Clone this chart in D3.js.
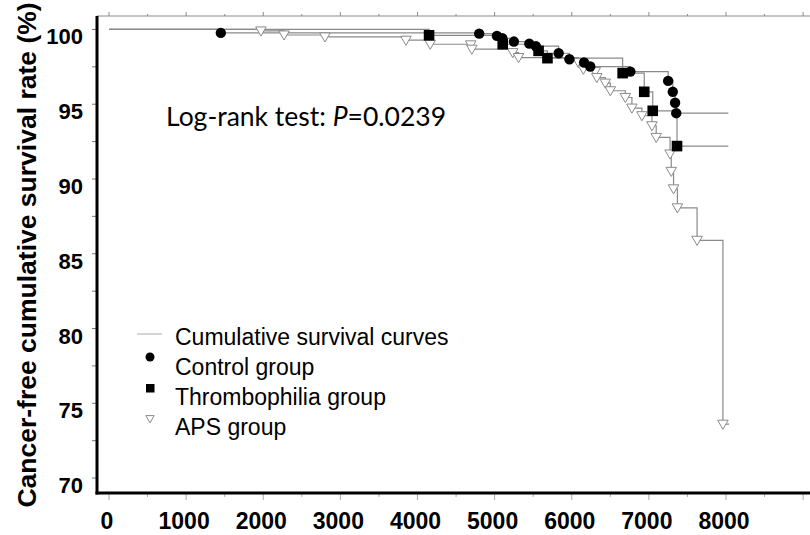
<!DOCTYPE html>
<html>
<head>
<meta charset="utf-8">
<script src="https://cdn.jsdelivr.net/npm/d3@7"></script>
<style>
  body { margin: 0; background: #fff; }
  svg { display: block; }
</style>
</head>
<body>
<svg id="chart" width="810" height="535"></svg>
<script>
// survival data: [days, survival %]
const controlPts = [[0, 100], [1450, 99.77], [4800, 99.72], [5030, 99.57], [5100, 99.41], [5250, 99.19],
  [5450, 99.05], [5535, 98.88], [5830, 98.41], [5970, 98.01], [6160, 97.79], [6240, 97.52],
  [6760, 97.18], [7250, 96.56], [7310, 95.83], [7340, 95.1], [7355, 94.4]];
const thromboPts = [[0, 100], [4150, 99.61], [5105, 99.01], [5570, 98.57], [5685, 98.08],
  [6660, 97.08], [6940, 95.83], [7050, 94.56], [7365, 92.2]];
const apsPts = [[0, 100], [1970, 99.9], [2270, 99.63], [2800, 99.5], [3850, 99.28], [4165, 99.01],
  [4690, 98.97], [4705, 98.68], [5235, 98.45], [5310, 98.12], [6085, 97.79], [6150, 97.34],
  [6305, 97.18], [6325, 96.78], [6435, 96.41], [6500, 95.9], [6695, 95.45], [6780, 94.74],
  [6910, 94.23], [7040, 93.56], [7095, 92.78], [7275, 91.67], [7290, 90.51], [7320, 89.34],
  [7370, 88.07], [7625, 85.9], [7960, 73.6]];
const lineEnds = { control: 8030, thrombo: 8030, aps: 8040 };

const xTicks = [0, 1000, 2000, 3000, 4000, 5000, 6000, 7000, 8000];
const yTicks = [70, 75, 80, 85, 90, 95, 100];
const legendItems = ["Cumulative survival curves", "Control group", "Thrombophilia group", "APS group"];

const svg = d3.select("#chart");
const pLeft = 97, pTop = 16, pRight = 815, pBottom = 493;

const x = d3.scaleLinear().domain([-155.6, 9154]).range([pLeft, pRight]);
const y = d3.scaleLinear().domain([69, 100.9]).range([pBottom, pTop]);
const gray = "#8a8a8a";

// top frame (thin grey) with small upward ticks
svg.append("line").attr("x1", pLeft).attr("x2", pRight).attr("y1", pTop).attr("y2", pTop)
  .attr("stroke", gray).attr("stroke-width", 1);
svg.selectAll(".ttick").data(d3.range(0, 9001, 500)).enter().append("line")
  .attr("x1", d => x(d)).attr("x2", d => x(d))
  .attr("y1", pTop).attr("y2", d => d % 1000 === 0 ? pTop - 4 : pTop - 2)
  .attr("stroke", gray);

// bottom ticks
svg.selectAll(".btick").data(d3.range(0, 9001, 500)).enter().append("line")
  .attr("x1", d => x(d)).attr("x2", d => x(d))
  .attr("y1", pBottom + 1).attr("y2", d => d % 1000 === 0 ? pBottom + 7 : pBottom + 4)
  .attr("stroke", "#aaa");

// y ticks
svg.selectAll(".ytick").data(d3.range(70, 100.1, 2.5)).enter().append("line")
  .attr("x1", pLeft - 5).attr("x2", pLeft)
  .attr("y1", d => y(d)).attr("y2", d => y(d))
  .attr("stroke", "#777");

// main axes, thick black
svg.append("line").attr("x1", pLeft).attr("x2", pLeft).attr("y1", pTop).attr("y2", pBottom + 1.5)
  .attr("stroke", "#000").attr("stroke-width", 3);
svg.append("line").attr("x1", pLeft - 1.5).attr("x2", pRight).attr("y1", pBottom).attr("y2", pBottom)
  .attr("stroke", "#000").attr("stroke-width", 3);

// tick labels
svg.selectAll(".xlab").data(xTicks).enter().append("text")
  .attr("x", d => x(d) - 2).attr("y", 529)
  .attr("text-anchor", "middle")
  .style("font-family", "Liberation Sans, Arial, sans-serif")
  .style("font-weight", "bold").style("font-size", "23px")
  .text(d => d);

svg.selectAll(".ylab").data(yTicks).enter().append("text")
  .attr("x", 83).attr("y", d => y(d) + 15)
  .attr("text-anchor", "end")
  .style("font-family", "Liberation Sans, Arial, sans-serif")
  .style("font-weight", "bold").style("font-size", "22px")
  .text(d => d);

// y axis title
svg.append("text")
  .attr("transform", "translate(36,255) rotate(-90)")
  .attr("text-anchor", "middle")
  .style("font-family", "Liberation Sans, Arial, sans-serif")
  .style("font-weight", "bold").style("font-size", "26.5px")
  .text("Cancer-free cumulative survival rate (%)");

// step curves
const stepLine = d3.line().x(d => x(d[0])).y(d => y(d[1])).curve(d3.curveStepAfter);
function drawCurve(pts, endT) {
  const full = pts.concat([[endT, pts[pts.length - 1][1]]]);
  svg.append("path").attr("d", stepLine(full))
    .attr("fill", "none").attr("stroke", gray).attr("stroke-width", 1.2);
}
drawCurve(apsPts, lineEnds.aps);
drawCurve(thromboPts, lineEnds.thrombo);
drawCurve(controlPts, lineEnds.control);

const tri = d3.symbol().type(d3.symbolTriangle).size(48);

svg.selectAll(".aps").data(apsPts.slice(1)).enter().append("path")
  .attr("d", tri)
  .attr("transform", d => `translate(${x(d[0])},${y(d[1]) - 1}) rotate(180)`)
  .attr("fill", "#fff").attr("stroke", gray).attr("stroke-width", 1);

svg.selectAll(".thr").data(thromboPts.slice(1)).enter().append("rect")
  .attr("x", d => x(d[0]) - 5.3).attr("y", d => y(d[1]) - 5.3)
  .attr("width", 10.6).attr("height", 10.6).attr("fill", "#000");

svg.selectAll(".ctl").data(controlPts.slice(1)).enter().append("circle")
  .attr("cx", d => x(d[0])).attr("cy", d => y(d[1]))
  .attr("r", 5.2).attr("fill", "#000");

// log-rank annotation
const ann = svg.append("text").attr("x", 166).attr("y", 126)
  .style("font-family", "Lato, sans-serif").style("font-size", "26.5px");
ann.append("tspan").text("Log-rank test: ");
ann.append("tspan").style("font-style", "italic").text("P");
ann.append("tspan").text("=0.0239");

// legend
const legY = [345, 375, 405, 435];
const leg = svg.append("g");
leg.selectAll("text").data(legendItems).enter().append("text")
  .attr("x", 175).attr("y", (d, i) => legY[i])
  .style("font-family", "Liberation Sans, Arial, sans-serif").style("font-size", "23px")
  .text(d => d);
leg.append("line").attr("x1", 137).attr("x2", 162).attr("y1", 334).attr("y2", 334)
  .attr("stroke", "#aaa").attr("stroke-width", 1);
leg.append("circle").attr("cx", 150).attr("cy", 357).attr("r", 4.5).attr("fill", "#000");
leg.append("rect").attr("x", 146).attr("y", 384).attr("width", 8.5).attr("height", 8.5).attr("fill", "#000");
leg.append("path").attr("d", d3.symbol().type(d3.symbolTriangle).size(30))
  .attr("transform", "translate(150,418) rotate(180)")
  .attr("fill", "#fff").attr("stroke", gray).attr("stroke-width", 1);
</script>
</body>
</html>
